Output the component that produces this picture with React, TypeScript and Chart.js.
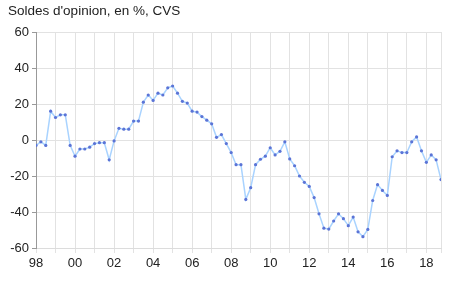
import React, { useEffect, useRef } from "react";
import { Chart, registerables } from "chart.js";

Chart.register(...registerables);

const title = "Soldes d'opinion, en %, CVS";

// Quarterly categories 1998T1 .. 2018T4
const years: number[] = [
  1998, 1999, 2000, 2001, 2002, 2003, 2004, 2005, 2006, 2007, 2008,
  2009, 2010, 2011, 2012, 2013, 2014, 2015, 2016, 2017, 2018,
];
const quarters: number[] = [1, 2, 3, 4];
const categories: string[] = years.flatMap((y) => quarters.map((q) => `${y}T${q}`));

const values: number[] = [
  -3, -1, -3, 16, 12.5, 14, 14, -3,
  -9, -5, -5, -4, -2, -1.5, -1.5, -11,
  -0.5, 6.5, 6, 6, 10.5, 10.5, 21, 25,
  22, 26, 25, 29, 30, 26, 21.5, 20.5,
  16, 15.5, 13, 11, 9, 1.5, 3, -2,
  -7, -13.7, -13.7, -33, -26.5, -13.7, -10.7, -9,
  -4.3, -8.3, -6.3, -1, -10.5, -14.3, -20, -23.5,
  -25.8, -32, -41, -49, -49.5, -45, -41, -43.7,
  -47.6, -42.8, -51, -53.7, -49.7, -33.6, -24.8, -28,
  -30.8, -9.3, -6, -7, -7, -1, 1.7, -6,
  -12.4, -8.3, -11, -22,
];

const xTickYears: number[] = [1998, 2000, 2002, 2004, 2006, 2008, 2010, 2012, 2014, 2016, 2018];
const xTickLabels: string[] = ["98", "00", "02", "04", "06", "08", "10", "12", "14", "16", "18"];
const yTicks: number[] = [-60, -40, -20, 0, 20, 40, 60];

export default function App() {
  const ref = useRef<HTMLCanvasElement | null>(null);

  useEffect(() => {
    if (!ref.current) return;
    const points = categories.map((c, i) => {
      const [y, q] = c.split("T").map(Number);
      return { x: y + (q - 1) / 4, y: values[i] };
    });
    const xMin = years[0];
    const xMax = points[points.length - 1].x;
    const chart = new Chart(ref.current, {
      type: "line",
      data: {
        datasets: [
          {
            data: points,
            borderColor: "#a9d3ff",
            borderWidth: 1.5,
            pointRadius: 1.6,
            pointBackgroundColor: "#5b74d6",
            pointBorderWidth: 0,
            tension: 0,
          },
        ],
      },
      options: {
        responsive: true,
        maintainAspectRatio: false,
        animation: false,
        layout: { padding: { top: 32, right: 9, left: 0, bottom: 0 } },
        plugins: { legend: { display: false }, tooltip: { enabled: false }, title: { display: false } },
        scales: {
          x: {
            type: "linear",
            min: xMin,
            max: xMax,
            afterFit: (s: any) => {
              s.height = 43;
            },
            afterBuildTicks: (s: any) => {
              s.ticks = [...years.map((v) => ({ value: v })), { value: xMax }];
            },
            ticks: {
              autoSkip: false,
              maxRotation: 0,
              padding: 3,
              color: "#222",
              font: { family: "'Liberation Sans', Arial, sans-serif", size: 13 },
              callback: (v: any) => {
                const k = xTickYears.indexOf(Number(v));
                return k >= 0 ? xTickLabels[k] : "";
              },
            },
            grid: { color: "#e2e2e2", lineWidth: 1, tickLength: 5, tickColor: "#e2e2e2" },
            border: { color: "#dcdcdc" },
          },
          y: {
            min: -60,
            max: 60,
            afterFit: (s: any) => {
              s.width = 36;
            },
            afterBuildTicks: (s: any) => {
              s.ticks = yTicks.map((v) => ({ value: v }));
            },
            ticks: {
              padding: 3,
              color: "#222",
              font: { family: "'Liberation Sans', Arial, sans-serif", size: 13 },
            },
            grid: { color: "#e2e2e2", lineWidth: 1, tickLength: 4, tickColor: "#999" },
            border: { color: "#999" },
          },
        },
      },
    });
    return () => chart.destroy();
  }, []);

  return (
    <div style={{ position: "fixed", left: 0, top: 0, width: 450, height: 291, background: "#fff" }}>
      <canvas ref={ref} />
      <div
        style={{
          position: "absolute",
          left: 8,
          top: 3,
          fontFamily: "'Liberation Sans', Arial, sans-serif",
          fontSize: 13.5,
          color: "#222",
          whiteSpace: "nowrap",
        }}
      >
        {title}
      </div>
    </div>
  );
}
